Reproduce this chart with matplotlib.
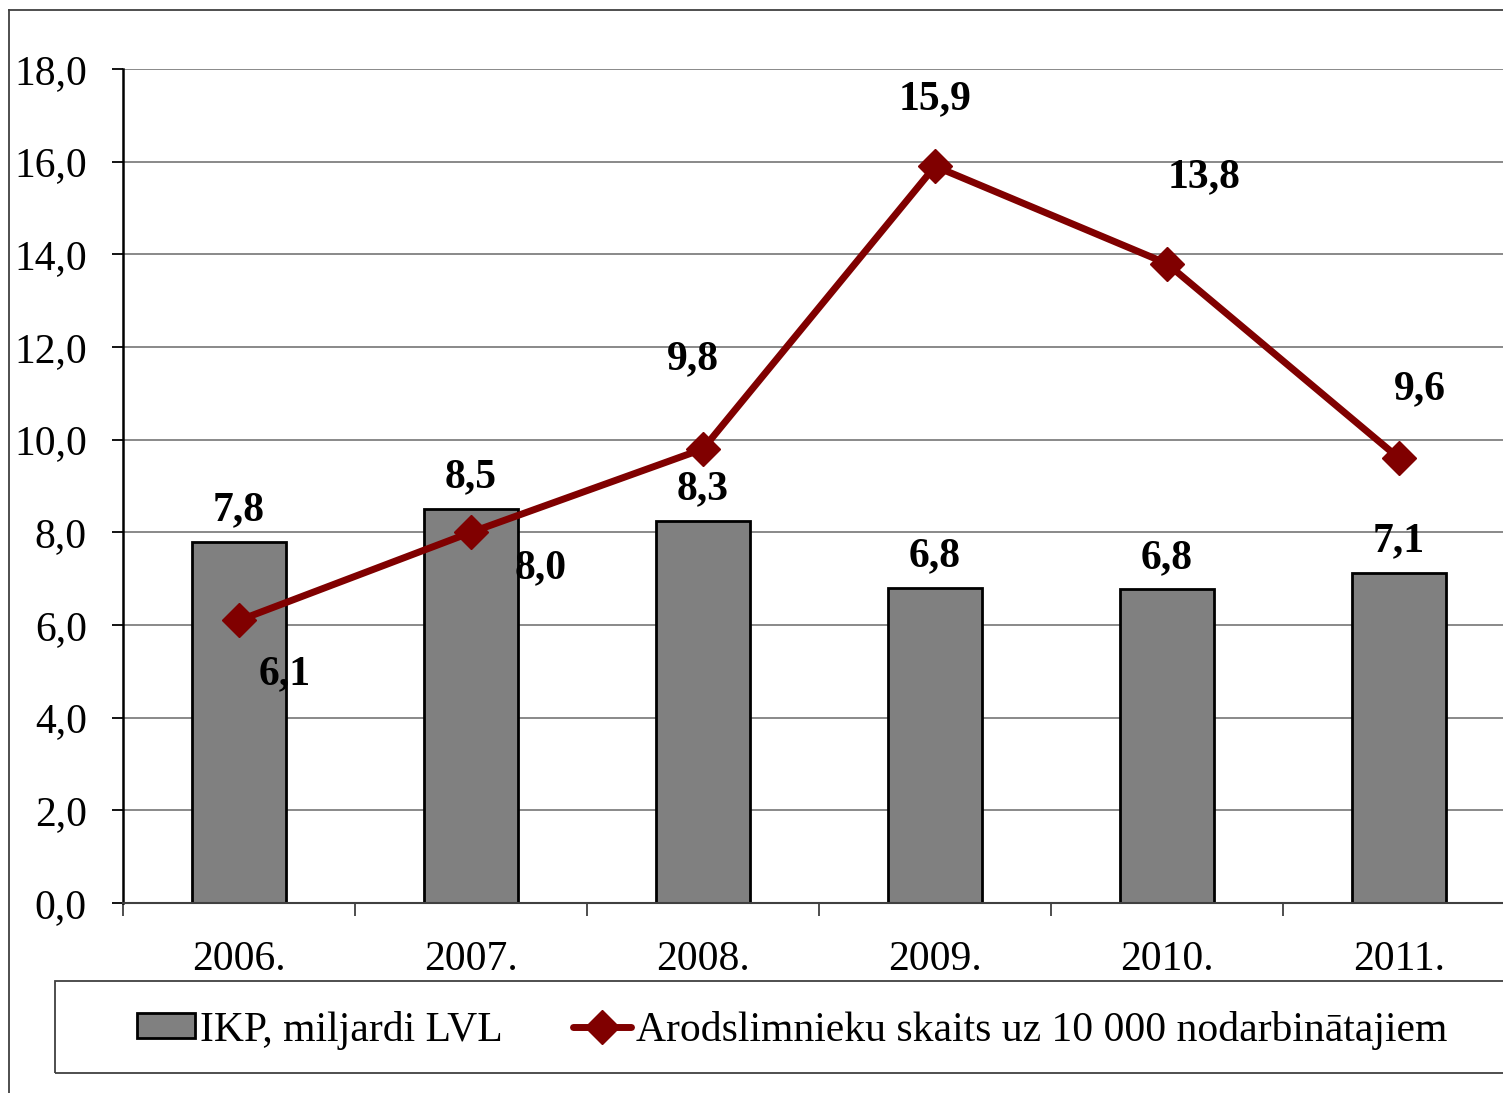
import matplotlib
matplotlib.use("Agg")
import matplotlib.pyplot as plt
from matplotlib.lines import Line2D
from matplotlib.patches import Rectangle
import numpy as np

plt.rcParams['font.family'] = ['Liberation Serif', 'DejaVu Serif']

years = ["2006.", "2007.", "2008.", "2009.", "2010.", "2011."]
gdp = [7.8, 8.5, 8.25, 6.8, 6.77, 7.12]
patients = [6.1, 8.0, 9.8, 15.9, 13.8, 9.6]
gdp_labels = ["7,8", "8,5", "8,3", "6,8", "6,8", "7,1"]
pat_labels = ["6,1", "8,0", "9,8", "15,9", "13,8", "9,6"]
yticks = [0, 2, 4, 6, 8, 10, 12, 14, 16, 18]
ytick_labels = ["0,0", "2,0", "4,0", "6,0", "8,0", "10,0", "12,0", "14,0", "16,0", "18,0"]
legend_gdp = "IKP, miljardi LVL"
legend_pat = "Arodslimnieku skaits uz 10 000 nodarbinātajiem"

# label offsets (pixels) for line labels, manual placement as in reference
pat_offsets_px = [(46, -54), (70, -36), (-10, 90), (0, 67), (37, 86), (21, 69)]

W, H = 1503, 1093
fig = plt.figure(figsize=(W / 100, H / 100), dpi=100)
ax = fig.add_axes([123 / W, (H - 903) / H, 1392 / W, 834 / H])

x = np.arange(len(years))
bar_color = "#808080"
line_color = "#800000"
fs = 30

ax.set_axisbelow(True)
ax.yaxis.grid(True, color="#808080", linewidth=1.3)
bars = ax.bar(x, gdp, width=0.405, color=bar_color, edgecolor="black", linewidth=2.0, zorder=2,
              label=legend_gdp)
line, = ax.plot(x, patients, color=line_color, linewidth=5, marker="D", markersize=17,
                zorder=3, label=legend_pat, solid_capstyle="round")

ax.set_xlim(-0.5, len(years) - 0.5)
ax.set_ylim(0, 18)
ax.set_yticks(yticks)
ax.set_yticklabels(ytick_labels, fontsize=fs)
ax.tick_params(axis="y", length=8, width=1.3, color="black", pad=18, direction="out")

ax.set_xticks(np.arange(len(years) + 1) - 0.5)
ax.set_xticklabels([])
ax.tick_params(axis="x", which="major", length=9, width=1.3, color="#404040", direction="out")
ax.set_xticks(x, minor=True)
ax.set_xticklabels(years, minor=True, fontsize=fs)
ax.tick_params(axis="x", which="minor", length=0, pad=27)

for s in ["top", "right"]:
    ax.spines[s].set_visible(False)
ax.spines["left"].set_color("black")
ax.spines["left"].set_linewidth(1.8)
ax.spines["bottom"].set_color("#404040")
ax.spines["bottom"].set_linewidth(1.5)

for xi, v, t in zip(x, gdp, gdp_labels):
    ax.annotate(t, (xi, v), xytext=(0, 9), textcoords="offset points", ha="center",
                va="bottom", fontsize=fs, fontweight="bold", zorder=4)
for xi, v, t, (dx, dy) in zip(x, patients, pat_labels, pat_offsets_px):
    ax.annotate(t, (xi, v), xytext=(dx * 0.72, dy * 0.72), textcoords="offset points",
                ha="center", va="center", fontsize=fs, fontweight="bold", zorder=4)

# outer chart frame
fig.add_artist(Line2D([9 / W, 1.0], [1 - 10 / H, 1 - 10 / H], color="#404040", linewidth=1.3))
fig.add_artist(Line2D([9 / W, 9 / W], [0, 1 - 10 / H], color="#404040", linewidth=1.3))

# legend frame
fig.add_artist(Rectangle((55 / W, (H - 1073) / H), 1.0, 92 / H, fill=False,
                         edgecolor="#404040", linewidth=1.3, transform=fig.transFigure))
fig.legend([bars, line], [legend_gdp, legend_pat], loc="center",
           bbox_to_anchor=(792 / W, (H - 1030) / H),
           ncol=2, frameon=False, fontsize=fs, handlelength=1.4, handleheight=0.55,
           handletextpad=0.1, columnspacing=1.7, borderpad=0)

fig.savefig("out.png", dpi=100)
